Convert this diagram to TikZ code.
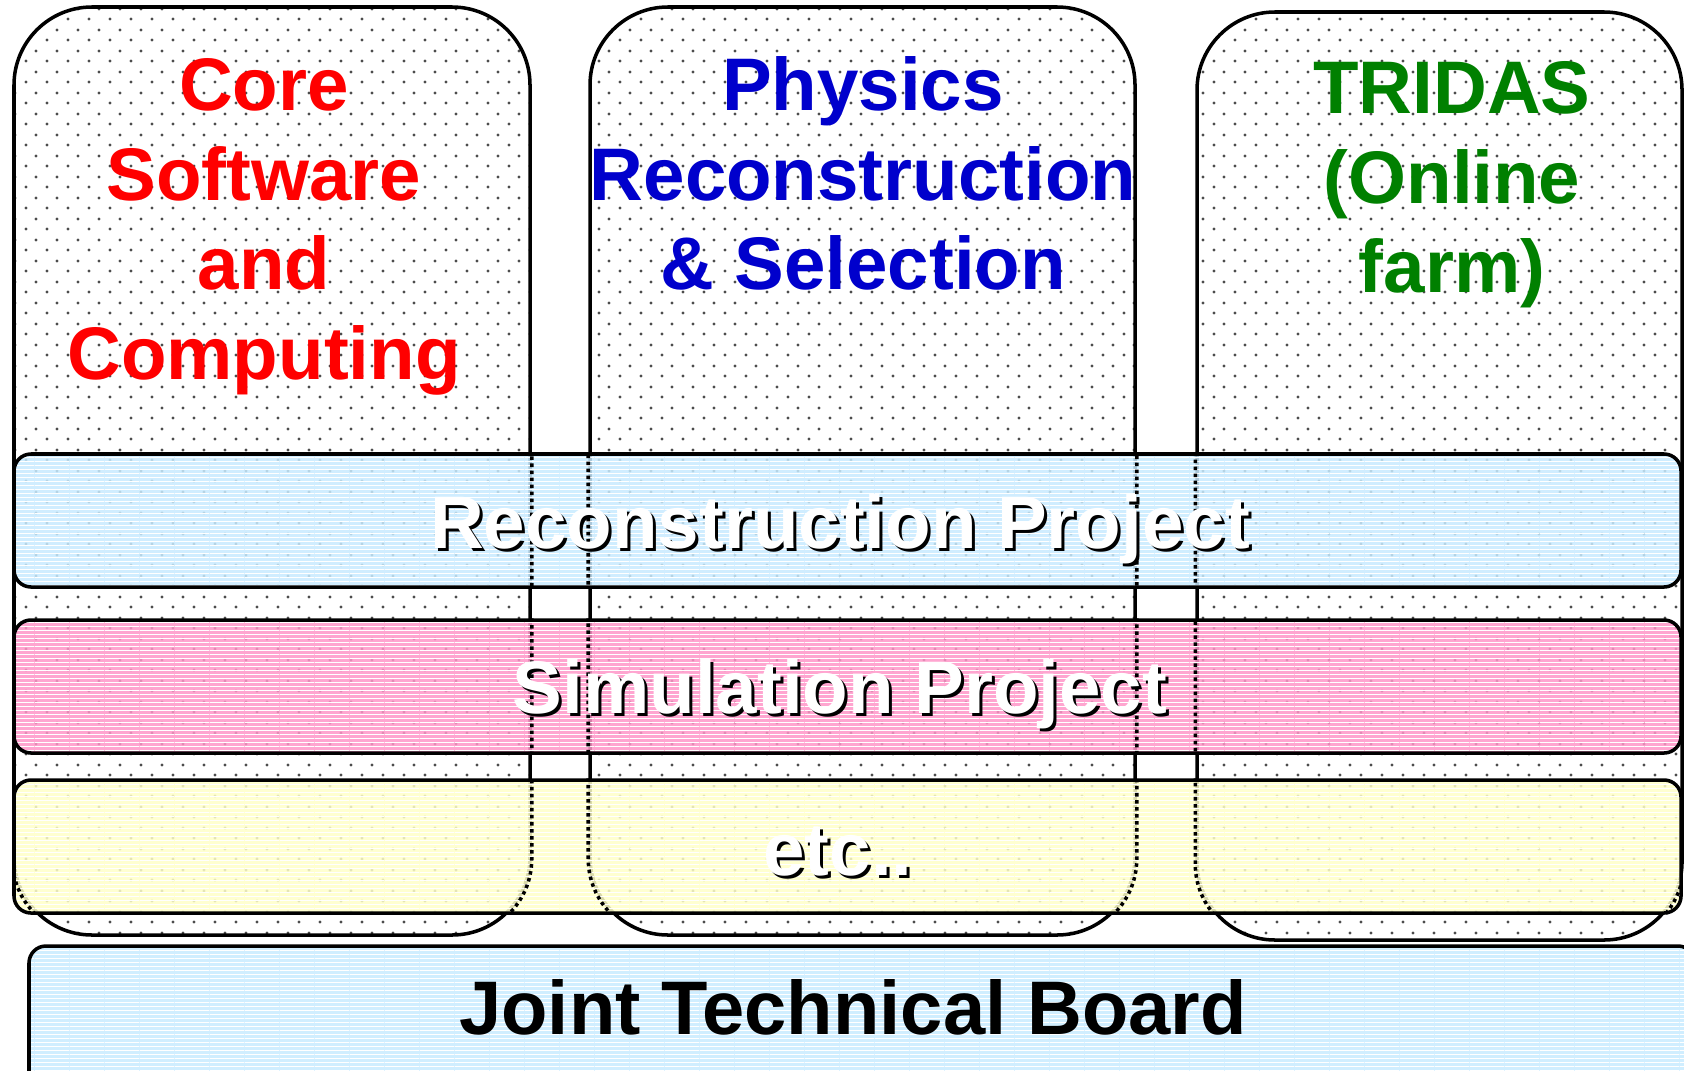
\documentclass[tikz,border=0pt]{standalone}
\usepackage{fontspec}
\setmainfont{Liberation Sans}
\usepackage{tikz}
\usetikzlibrary{patterns}
\usepackage{xcolor}

\definecolor{corered}{RGB}{255,0,0}
\definecolor{physblue}{RGB}{0,0,204}
\definecolor{tridasgreen}{RGB}{0,128,0}
\definecolor{bandblue}{RGB}{200,235,255}
\definecolor{bandpink}{RGB}{255,150,200}
\definecolor{bandyellow}{RGB}{255,255,200}

\newcommand{\slidefont}{\fontsize{21.2}{25.5}\selectfont\bfseries}

\pgfdeclarepatternformonly{pptdots}{\pgfqpoint{0pt}{0pt}}{\pgfqpoint{5.83pt}{5.83pt}}{\pgfqpoint{5.83pt}{5.83pt}}{
  \pgfpathcircle{\pgfqpoint{1.46pt}{1.46pt}}{0.45pt}
  \pgfpathcircle{\pgfqpoint{4.37pt}{4.37pt}}{0.45pt}
  \pgfusepath{fill}
}
\pgfdeclarepatternformonly{pptstripes}{\pgfqpoint{0pt}{0pt}}{\pgfqpoint{10pt}{1.15pt}}{\pgfqpoint{10pt}{1.15pt}}{
  \pgfpathrectangle{\pgfqpoint{0pt}{0pt}}{\pgfqpoint{10pt}{0.3pt}}
  \pgfusepath{fill}
}

\begin{document}
\begin{tikzpicture}[-,
    colbox/.style={draw, line width=1pt, rounded corners=0.78cm, inner sep=0,
      preaction={fill=white}, pattern=pptdots, pattern color=black!70},
    bandbox/.style={draw, line width=1pt, rounded corners=0.17cm, inner sep=0,
      preaction={fill=#1, fill opacity=0.85}, pattern=pptstripes, pattern color=white},
    title/.style={align=center, inner sep=0, anchor=north, font=\slidefont},
    bandtext/.style={inner sep=0, anchor=base, font=\slidefont, text=white},
    shadow/.style={inner sep=0, anchor=base, font=\slidefont, text=black}]
        \clip (0, 0) rectangle (16.84, 10.70);

        \node[colbox, minimum width=5.16cm, minimum height=9.28cm](core) at (2.72, 5.99){};
        \node[colbox, minimum width=5.45cm, minimum height=9.28cm](phys) at (8.625, 5.99){};
        \node[colbox, minimum width=4.85cm, minimum height=9.28cm](tridas) at (14.395, 5.94){};

        \node[bandbox=bandblue, minimum width=16.67cm, minimum height=1.33cm](recon) at (8.475, 5.495){};
        \node[bandbox=bandpink, minimum width=16.67cm, minimum height=1.33cm](sim) at (8.475, 3.835){};
        \node[bandbox=bandyellow, minimum width=16.67cm, minimum height=1.33cm](etc) at (8.475, 2.235){};
        \node[bandbox=bandblue, minimum width=16.66cm, minimum height=1.64cm](jtb) at (8.62, 0.42){};

        \begin{scope}
            \clip (recon.south west) rectangle (recon.north east)
                  (sim.south west) rectangle (sim.north east)
                  (etc.south west) rectangle (etc.north east);
            \draw[densely dotted, line width=1pt, rounded corners=0.78cm] (core.south west) rectangle (core.north east);
            \draw[densely dotted, line width=1pt, rounded corners=0.78cm] (phys.south west) rectangle (phys.north east);
            \draw[densely dotted, line width=1pt, rounded corners=0.78cm] (tridas.south west) rectangle (tridas.north east);
        \end{scope}

        \node[title, text=corered](core_t) at (2.64, 10.12){Core\\Software\\and\\Computing};
        \node[title, text=physblue](phys_t) at (8.63, 10.14){Physics\\Reconstruction\\\& Selection};
        \node[title, text=tridasgreen](tridas_t) at (14.52, 10.09){TRIDAS\\(Online\\farm)};

        \node[shadow](recon_sh) at (8.43, 5.19){Reconstruction Project};
        \node[bandtext](recon_t) at (8.40, 5.22){Reconstruction Project};
        \node[shadow](sim_sh) at (8.43, 3.54){Simulation Project};
        \node[bandtext](sim_t) at (8.40, 3.57){Simulation Project};
        \node[shadow](etc_sh) at (8.41, 1.92){etc..};
        \node[bandtext](etc_t) at (8.38, 1.95){etc..};

        \node[anchor=base, inner sep=0, font=\fontsize{21.6}{25.5}\selectfont\bfseries](jtb_t) at (8.53, 0.36){Joint Technical Board};
    \end{tikzpicture}
\end{document}
